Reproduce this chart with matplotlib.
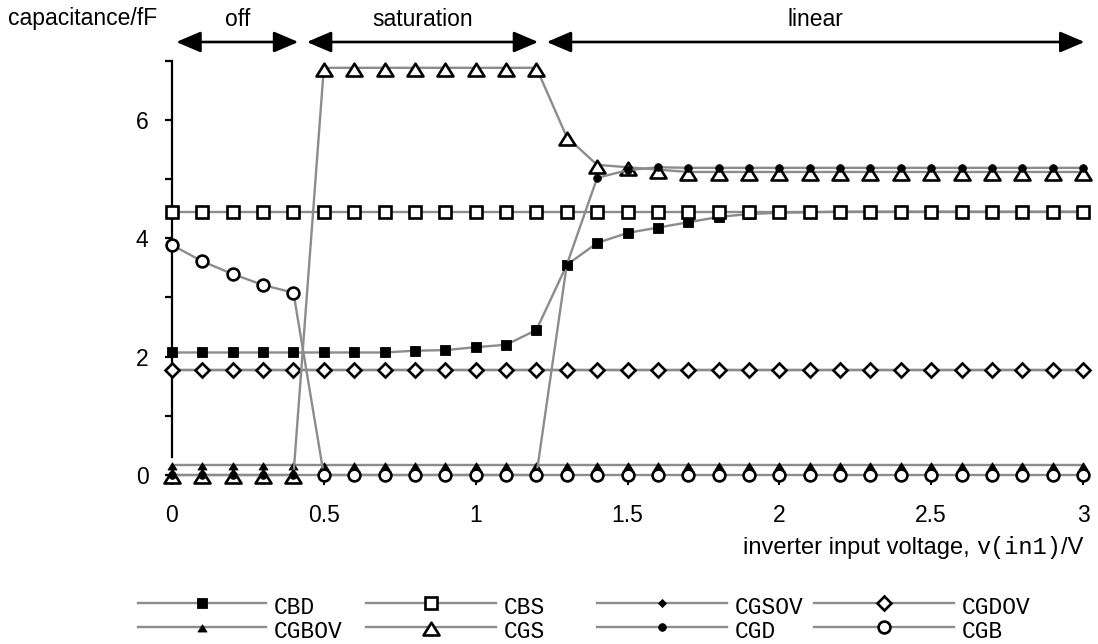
import matplotlib
matplotlib.use("Agg")
import matplotlib.pyplot as plt
from matplotlib.path import Path

# ---------------- data ----------------
voltage = [0.0, 0.1, 0.2, 0.3, 0.4, 0.5, 0.6, 0.7, 0.8, 0.9, 1.0,
           1.1, 1.2, 1.3, 1.4, 1.5, 1.6, 1.7, 1.8, 1.9, 2.0,
           2.1, 2.2, 2.3, 2.4, 2.5, 2.6, 2.7, 2.8, 2.9, 3.0]

CBD = [2.07, 2.07, 2.07, 2.07, 2.07, 2.07, 2.07, 2.07, 2.10, 2.11, 2.16,
       2.20, 2.45, 3.55, 3.92, 4.09, 4.18, 4.27, 4.36, 4.41, 4.43,
       4.44, 4.45, 4.45, 4.45, 4.45, 4.45, 4.45, 4.45, 4.45, 4.45]
CBS = [4.45, 4.45, 4.45, 4.45, 4.45, 4.45, 4.45, 4.45, 4.45, 4.45, 4.45,
       4.45, 4.45, 4.45, 4.45, 4.45, 4.45, 4.45, 4.45, 4.45, 4.45,
       4.45, 4.45, 4.45, 4.45, 4.45, 4.45, 4.45, 4.45, 4.45, 4.45]
CGSOV = [1.77, 1.77, 1.77, 1.77, 1.77, 1.77, 1.77, 1.77, 1.77, 1.77, 1.77,
         1.77, 1.77, 1.77, 1.77, 1.77, 1.77, 1.77, 1.77, 1.77, 1.77,
         1.77, 1.77, 1.77, 1.77, 1.77, 1.77, 1.77, 1.77, 1.77, 1.77]
CGDOV = [1.77, 1.77, 1.77, 1.77, 1.77, 1.77, 1.77, 1.77, 1.77, 1.77, 1.77,
         1.77, 1.77, 1.77, 1.77, 1.77, 1.77, 1.77, 1.77, 1.77, 1.77,
         1.77, 1.77, 1.77, 1.77, 1.77, 1.77, 1.77, 1.77, 1.77, 1.77]
CGBOV = [0.17, 0.17, 0.17, 0.17, 0.17, 0.17, 0.17, 0.17, 0.17, 0.17, 0.17,
         0.17, 0.17, 0.17, 0.17, 0.17, 0.17, 0.17, 0.17, 0.17, 0.17,
         0.17, 0.17, 0.17, 0.17, 0.17, 0.17, 0.17, 0.17, 0.17, 0.17]
CGS = [0.0, 0.0, 0.0, 0.0, 0.0, 6.88, 6.88, 6.88, 6.88, 6.88, 6.88,
       6.88, 6.88, 5.71, 5.24, 5.20, 5.16, 5.12, 5.12, 5.12, 5.12,
       5.12, 5.12, 5.12, 5.12, 5.12, 5.12, 5.12, 5.12, 5.12, 5.12]
CGD = [0.0, 0.0, 0.0, 0.0, 0.0, 0.0, 0.0, 0.0, 0.0, 0.0, 0.0,
       0.0, 0.0, 3.55, 5.02, 5.15, 5.20, 5.19, 5.19, 5.19, 5.19,
       5.19, 5.19, 5.19, 5.19, 5.19, 5.19, 5.19, 5.19, 5.19, 5.19]
CGB = [3.885, 3.61, 3.395, 3.21, 3.08, 0.0, 0.0, 0.0, 0.0, 0.0, 0.0,
       0.0, 0.0, 0.0, 0.0, 0.0, 0.0, 0.0, 0.0, 0.0, 0.0,
       0.0, 0.0, 0.0, 0.0, 0.0, 0.0, 0.0, 0.0, 0.0, 0.0]

series_names = ["CBD", "CBS", "CGSOV", "CGDOV", "CGBOV", "CGS", "CGD", "CGB"]
series_values = [CBD, CBS, CGSOV, CGDOV, CGBOV, CGS, CGD, CGB]

regions = ["off", "saturation", "linear"]
region_bounds = [0.0, 0.43, 1.22, 3.0]

x_ticks = [0, 0.5, 1, 1.5, 2, 2.5, 3]
x_tick_labels = ["0", "0.5", "1", "1.5", "2", "2.5", "3"]
y_major = [0, 2, 4, 6]
y_minor = [1, 3, 5, 7]

# ---------------- styles ----------------
LINE_C = "#8c8c8c"
# triangle whose anchor sits in its upper part (apex close to the point)
TRI = Path([(0, 0.6), (-1.0, -1.0), (1.0, -1.0), (0, 0.6)],
           [Path.MOVETO, Path.LINETO, Path.LINETO, Path.CLOSEPOLY])
styles = {
    "CBD":   dict(marker="s", ms=7.5, mfc="black", mec="black", mew=0.6),
    "CBS":   dict(marker="s", ms=9.0, mfc="white", mec="black", mew=1.9),
    "CGSOV": dict(marker="D", ms=4.0, mfc="black", mec="black", mew=0.6),
    "CGDOV": dict(marker="D", ms=7.2, mfc="white", mec="black", mew=1.9),
    "CGBOV": dict(marker=TRI, ms=6.5, mfc="black", mec="black", mew=0.6),
    "CGS":   dict(marker=TRI, ms=11.5, mfc="white", mec="black", mew=1.9),
    "CGD":   dict(marker="o", ms=5.5, mfc="black", mec="black", mew=0.6),
    "CGB":   dict(marker="o", ms=8.5, mfc="white", mec="black", mew=1.9),
}

plt.rcParams["font.family"] = ["Liberation Sans", "DejaVu Sans"]
FS = 16.5
MONO = ["Liberation Mono", "DejaVu Sans Mono"]

W, H = 1098, 644
fig = plt.figure(figsize=(W / 100, H / 100), dpi=100)
X0, X1, Y0, Y1 = 172, 1083, 475, 60.7
ax = fig.add_axes([X0 / W, 1 - Y0 / H, (X1 - X0) / W, (Y0 - Y1) / H])

for name, vals in zip(series_names, series_values):
    ax.plot(voltage, vals, color=LINE_C, lw=1.7, clip_on=False, zorder=3,
            **styles[name])

ax.set_xlim(0, 3)
ax.set_ylim(0, 7)
for s in ["top", "right", "bottom"]:
    ax.spines[s].set_visible(False)
ax.spines["left"].set_linewidth(1.6)
ax.spines["left"].set_bounds(0.3, 7)

ax.set_xticks(x_ticks)
ax.set_xticklabels(x_tick_labels, fontsize=FS)
ax.set_yticks(y_major)
ax.set_yticklabels([str(v) for v in y_major], fontsize=FS)
ax.set_yticks(y_minor, minor=True)
ax.tick_params(axis="x", direction="out", length=7, width=1.4, pad=14)
ax.tick_params(axis="y", which="both", direction="out", length=5, width=1.6, pad=12)

# y label at top left
fig.text(8 / W, 1 - 19 / H, "capacitance/fF", fontsize=FS, ha="left", va="center")

# region arrows with labels
arrow_y = 1 - 42 / H
gap = 0.014
arrow_style = "<|-|>,head_length=0.75,head_width=0.32"
for i, name in enumerate(regions):
    a, b = region_bounds[i], region_bounds[i + 1]
    left = a + gap
    right = b - gap if i < len(regions) - 1 else b + 0.005
    ax.annotate("", xy=(right, arrow_y), xytext=(left, arrow_y),
                xycoords=("data", "figure fraction"),
                textcoords=("data", "figure fraction"),
                arrowprops=dict(arrowstyle=arrow_style, mutation_scale=20,
                                lw=1.9, color="black", shrinkA=0, shrinkB=0),
                annotation_clip=False)
    ax.annotate(name, xy=((left + right) / 2, 1 - 19 / H),
                xycoords=("data", "figure fraction"),
                ha="center", va="center", fontsize=FS, annotation_clip=False)

# x label composed of three parts, right aligned at axis end
XFS = 17
xl_y = 1 - 554 / H
t3 = fig.text(X1 / W, xl_y, "/V", fontsize=XFS, ha="right", va="baseline")
fig.canvas.draw()
r = fig.canvas.get_renderer()
bb3 = t3.get_window_extent(r)
t2 = fig.text(bb3.x0 / W, xl_y, "v(in1)", fontsize=XFS, family=MONO,
              ha="right", va="baseline")
bb2 = t2.get_window_extent(r)
fig.text(bb2.x0 / W, xl_y, "inverter input voltage, ", fontsize=XFS,
         ha="right", va="baseline")

# legend (drawn in pixel coordinates)
lax = fig.add_axes([0, 0, 1, 1])
lax.set_xlim(0, W)
lax.set_ylim(H, 0)
lax.axis("off")
col_start = [138, 366, 597, 814]
col_end = [266, 496, 727, 954]
row_y = [603, 627]
order = [["CBD", "CBS", "CGSOV", "CGDOV"], ["CGBOV", "CGS", "CGD", "CGB"]]
for ri, row in enumerate(order):
    for ci, name in enumerate(row):
        x0, x1 = col_start[ci], col_end[ci]
        y = row_y[ri]
        lax.plot([x0, x1], [y, y], color=LINE_C, lw=1.7)
        lax.plot([(x0 + x1) / 2], [y], ls="none", **styles[name])
        lax.text(x1 + 8, y + 5, name, fontsize=16.5, family=MONO,
                 ha="left", va="center")

fig.savefig("out.png", dpi=100)
